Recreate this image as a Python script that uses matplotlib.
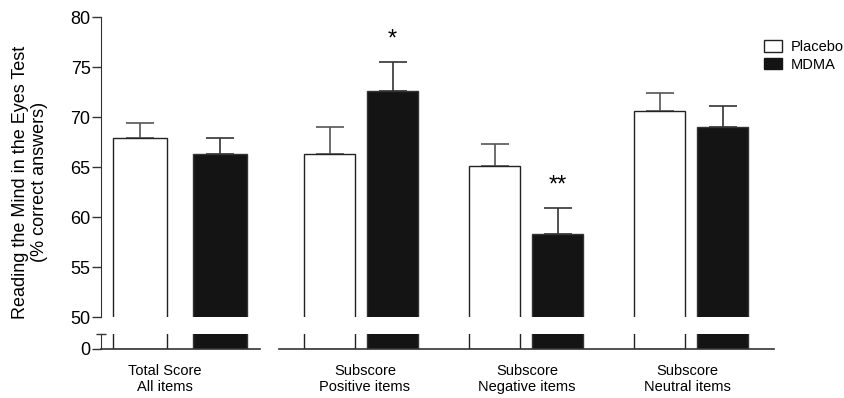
import numpy as np
import matplotlib
matplotlib.use("Agg")
import matplotlib.pyplot as plt
from matplotlib.patches import Patch

plt.rcParams['font.family'] = ['Liberation Sans', 'DejaVu Sans']

# Datos
groups = ["Total Score\nAll items", "Subscore\nPositive items",
          "Subscore\nNegative items", "Subscore\nNeutral items"]
placebo_mean = [67.9, 66.3, 65.1, 70.6]
placebo_sem = [1.5, 2.7, 2.2, 1.8]
mdma_mean = [66.3, 72.6, 58.3, 69.0]
mdma_sem = [1.6, 2.9, 2.6, 2.1]
stars = ["", "*", "**", ""]

# Layout (unidades ~ pixeles)
W, H = 845, 398
group_x = np.array([180.0, 361.0, 526.0, 691.0])
half_sep = np.array([40.0, 31.5, 31.5, 31.5])
bar_w = np.array([54.0, 51.0, 51.0, 51.0])
label_x = [165, 365, 527, 687]
x_left, x_right = 101, 774

fig = plt.figure(figsize=(W / 100, H / 100), dpi=100)
ax = fig.add_axes([x_left / W, 1 - 317 / H, (x_right - x_left) / W, 300 / H])
ax_lo = fig.add_axes([x_left / W, 1 - 348.5 / H, (x_right - x_left) / W, 14.5 / H])

for a in (ax, ax_lo):
    a.bar(group_x - half_sep, placebo_mean, width=bar_w, color="white",
          edgecolor="#222222", linewidth=1.0, zorder=2)
    a.bar(group_x + half_sep, mdma_mean, width=bar_w, color="#141414",
          edgecolor="#333333", linewidth=1.0, zorder=2)
    a.set_xlim(x_left, x_right)
    for s in ("top", "right", "bottom"):
        a.spines[s].set_visible(False)
    a.spines["left"].set_color("#333333")
    a.tick_params(axis="y", direction="out", length=6.5, width=1, pad=1,
                  labelsize=13, colors="#333333", labelcolor="black")
    a.set_xticks([])

# barras de error (solo hacia arriba)
ax.errorbar(group_x - half_sep, placebo_mean, yerr=[np.zeros(4), placebo_sem],
            fmt="none", ecolor="#555555", elinewidth=1.2, capsize=10,
            capthick=1.2, zorder=1)
ax.errorbar(group_x + half_sep, mdma_mean, yerr=[np.zeros(4), mdma_sem],
            fmt="none", ecolor="#333333", elinewidth=1.2, capsize=10,
            capthick=1.2, zorder=1)

for i, s in enumerate(stars):
    if s:
        ax.text(group_x[i] + half_sep[i], mdma_mean[i] + mdma_sem[i] + 2.2, s,
                ha="center", va="center", fontsize=17)

ax.set_ylim(50, 80)
ax.set_yticks(np.arange(50, 81, 5))

ax_lo.set_ylim(0, 1.5)
ax_lo.set_yticks([0])
ax_lo.plot([0], [1], transform=ax_lo.transAxes, marker="_", markersize=7,
           color="#333333", mew=1, clip_on=False)

# eje x partido
ax_lo.plot([x_left, 260], [0, 0], color="#333333", lw=1.2, clip_on=False)
ax_lo.plot([279, x_right], [0, 0], color="#333333", lw=1.2, clip_on=False)

for lx, g in zip(label_x, groups):
    fig.text(lx / W, 1 - 379 / H, g, ha="center", va="center",
             fontsize=10.5, linespacing=1.2)

fig.text(30 / W, 1 - 182 / H,
         "Reading the Mind in the Eyes Test\n(% correct answers)",
         rotation=90, ha="center", va="center", fontsize=13,
         multialignment="center", linespacing=1.2)

handles = [Patch(facecolor="white", edgecolor="#222222", label="Placebo"),
           Patch(facecolor="#141414", edgecolor="#141414", label="MDMA")]
fig.legend(handles=handles, loc="upper left",
           bbox_to_anchor=(764 / W, 1 - 40 / H), frameon=False,
           borderpad=0, borderaxespad=0,
           fontsize=10.5, handlelength=1.25, handleheight=0.85,
           handletextpad=0.6, labelspacing=0.25)

fig.savefig("out.png", dpi=100)
